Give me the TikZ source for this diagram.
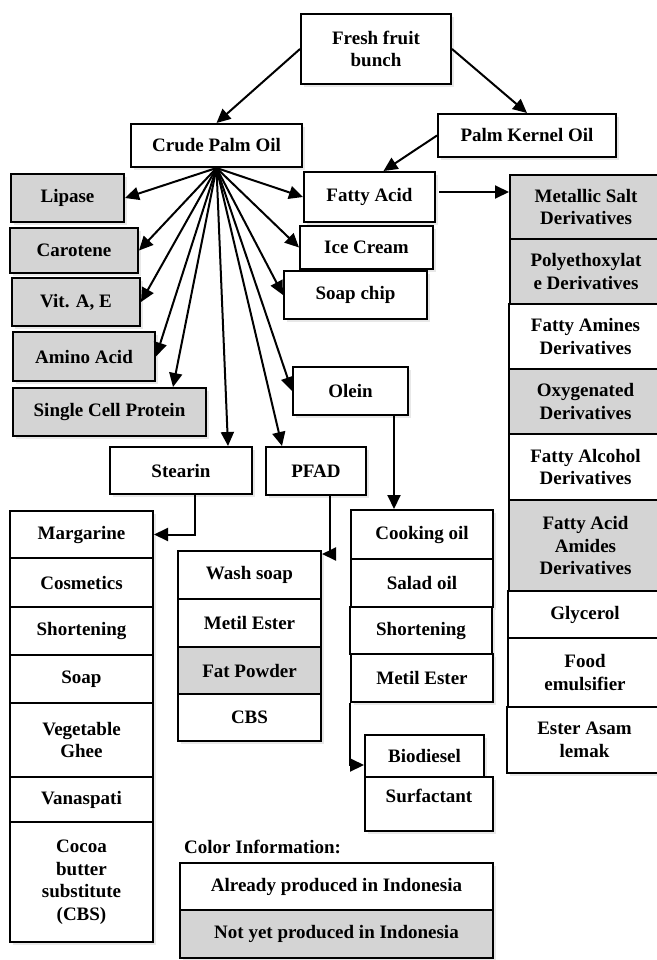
\documentclass[tikz,border=0pt]{standalone}
\usepackage{fontspec}
\setmainfont{Liberation Serif}
\usetikzlibrary{arrows.meta,shadows,calc}
\definecolor{boxgray}{HTML}{D4D4D4}
\tikzset{
  box/.style={draw=black, line width=2pt, fill=white, inner sep=2pt, align=center,
    font=\fontsize{19}{22.5}\selectfont\bfseries,
    drop shadow={opacity=0.18, shadow xshift=3pt, shadow yshift=-3pt}},
  ng/.style={fill=boxgray},
  arr/.style={line width=2pt, -{Triangle[length=14pt,width=13pt]}},
  plain/.style={font=\fontsize{19}{22.5}\selectfont\bfseries, inner sep=0pt},
}
\newcommand\bx[7][]{%
  \pgfmathsetmacro\bxcx{(#3+#5)/2}\pgfmathsetmacro\bxcy{(#4+#6)/2}%
  \pgfmathsetmacro\bxw{#5-#3}\pgfmathsetmacro\bxh{#6-#4}%
  \node[box,#1,minimum width=\bxw pt,minimum height=\bxh pt] (#2) at (\bxcx,\bxcy) {#7};}
\begin{document}
\begin{tikzpicture}[x=1pt,y=-1pt]
\fill[white] (0,0) rectangle (656,960);
\useasboundingbox (0,0) rectangle (656,960);

% top
\bx{fresh}{301}{14}{451}{84}{Fresh fruit\\bunch}
\bx{cpo}{131}{124}{302}{167}{Crude Palm Oil}
\bx{pko}{438}{114}{616}{157}{Palm Kernel Oil}
\bx{fa}{304}{172}{435}{222}{Fatty Acid}
\bx{ice}{300}{226}{433}{269}{Ice Cream}
\bx{soap}{284}{271}{427}{319}{Soap chip}
\bx{olein}{293}{367}{408}{415}{Olein}

% left grey
\bx[ng]{lipase}{11}{174}{124}{222}{Lipase}
\bx[ng]{carotene}{10}{228}{138}{273}{Carotene}
\bx[ng]{vit}{12}{278}{140}{326}{Vit. A, E}
\bx[ng]{amino}{13}{332}{155}{381}{Amino Acid}
\bx[ng]{scp}{13}{388}{206}{436}{Single Cell Protein}

\bx{stearin}{110}{447}{252}{494}{Stearin}
\bx{pfad}{266}{447}{366}{495}{PFAD}

% left column
\bx{marg}{10}{511}{153}{558}{Margarine}
\bx{cosm}{10}{558}{153}{607}{Cosmetics}
\bx{shortA}{10}{607}{153}{655}{Shortening}
\bx{soapL}{10}{655}{153}{703}{Soap}
\bx{ghee}{10}{703}{153}{777}{Vegetable\\Ghee}
\bx{vana}{10}{777}{153}{822}{Vanaspati}
\bx{cbsL}{10}{822}{153}{942}{Cocoa\\butter\\substitute\\(CBS)}

% middle column
\bx{wash}{178}{551}{321}{599}{Wash soap}
\bx{metilA}{178}{599}{321}{647}{Metil Ester}
\bx[ng]{fatp}{178}{647}{321}{694}{Fat Powder}
\bx{cbsM}{178}{694}{321}{741}{CBS}

% olein column
\bx{cook}{351}{510}{493}{559}{Cooking oil}
\bx{salad}{351}{559}{493}{607}{Salad oil}
\bx{shortB}{350}{607}{492}{654}{Shortening}
\bx{metilB}{351}{654}{493}{702}{Metil Ester}
\bx{bio}{365}{735}{484}{777}{Biodiesel}
\bx[text depth=16pt]{surf}{365}{777}{493}{831}{Surfactant}

% right column
\bx[ng]{metal}{510}{175}{662}{239}{Metallic Salt\\Derivatives}
\bx[ng]{poly}{510}{239}{662}{304}{Polyethoxylat\\e Derivatives}
\bx{amine}{509}{304}{662}{369}{Fatty Amines\\Derivatives}
\bx[ng]{oxy}{509}{369}{662}{434}{Oxygenated\\Derivatives}
\bx{alc}{509}{434}{662}{500}{Fatty Alcohol\\Derivatives}
\bx[ng]{amide}{509}{500}{662}{591}{Fatty Acid\\Amides\\Derivatives}
\bx{glyc}{508}{591}{662}{638}{Glycerol}
\bx{food}{508}{638}{662}{707}{Food\\emulsifier}
\bx{ester}{507}{707}{662}{773}{Ester Asam\\lemak}

% legend
\node[plain, anchor=west] (ci) at (184,847) {Color Information:};
\bx{legA}{180}{863}{493}{910}{Already produced in Indonesia}
\bx[ng]{legB}{180}{910}{493}{958}{Not yet produced in Indonesia}

% connectors
\draw[arr] (fresh.west) -- (cpo.north);
\draw[arr] (fresh.east) -- (pko.north);
\draw[arr] (pko.west) -- ([xshift=14pt]fa.north);
\coordinate (faout) at ([xshift=3pt,yshift=5pt]fa.east);
\draw[arr] (faout) -- (faout -| metal.west);

\draw[arr] (cpo.south) -- (lipase.east);
\draw[arr] (cpo.south) -- (carotene.east);
\draw[arr] (cpo.south) -- (vit.east);
\draw[arr] (cpo.south) -- (amino.east);
\draw[arr] (cpo.south) -- ([xshift=-34pt]scp.north east);
\draw[arr] (cpo.south) -- ([xshift=47pt]stearin.north);
\draw[arr] (cpo.south) -- ([xshift=17pt]pfad.north west);
\draw[arr] (cpo.south) -- (olein.west);
\draw[arr] (cpo.south) -- (soap.west);
\draw[arr] (cpo.south) -- (ice.west);
\draw[arr] (cpo.south) -- (fa.west);

\coordinate (st1) at ([xshift=14pt]stearin.south);
\draw[arr] (st1) |- (marg.east);
\coordinate (pf1) at ([xshift=14pt]pfad.south);
\draw[arr] (pf1) |- ([yshift=-4pt]wash.north east);
\coordinate (ol1) at ([xshift=43.5pt]olein.south);
\draw[arr] (ol1) -- (ol1 |- cook.north);
\draw[arr] (metilB.south west) |- ([yshift=-9pt]bio.west);
\end{tikzpicture}
\end{document}
